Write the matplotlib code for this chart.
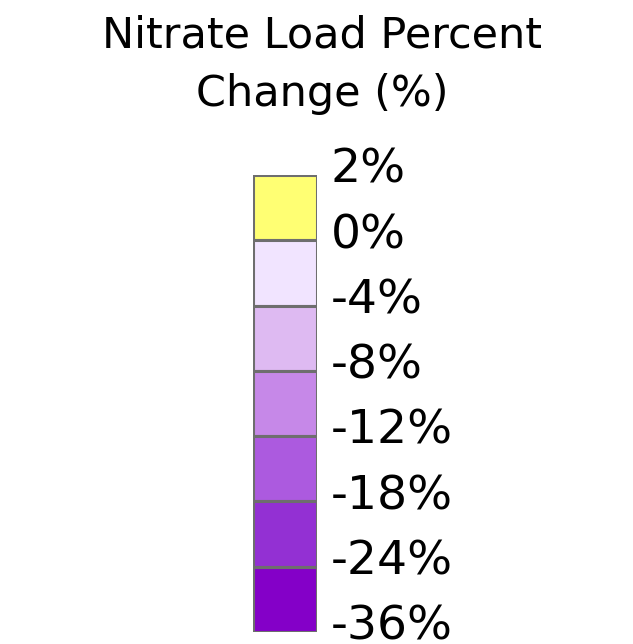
import matplotlib
matplotlib.use("Agg")
import matplotlib.pyplot as plt
from matplotlib.transforms import ScaledTranslation

# legend classes, top to bottom
colors = ["#FFFF73", "#F1E4FF", "#DEBAF2", "#C688E8", "#AC5ADF", "#9330D3", "#8400C8"]
labels = ["2%", "0%", "-4%", "-8%", "-12%", "-18%", "-24%", "-36%"]
title = "Nitrate Load Percent\nChange (%)"

W, H = 633, 644
fig = plt.figure(figsize=(W / 100, H / 100), dpi=100)
fig.patch.set_facecolor("white")

fig.text(322 / W, 1 - 65 / H, title, ha="center", va="center", fontsize=31,
         family="DejaVu Sans", linespacing=1.5)

# box column
ax = fig.add_axes([253 / W, 1 - 632 / H, 64 / W, 457 / H])
n = len(colors)
ax.bar([0] * n, [1] * n, bottom=list(range(n)), width=1, color=colors,
       edgecolor="#6E6E6E", linewidth=2.2)
ax.set_xlim(-0.5, 0.5)
ax.set_ylim(n, 0)
ax.set_xticks([])
ax.yaxis.tick_right()
ax.set_yticks(range(n + 1))
ax.set_yticklabels(labels, fontsize=34, family="DejaVu Sans")
ax.tick_params(axis="y", length=0, pad=10)
shift = ScaledTranslation(0, 7 / 72, fig.dpi_scale_trans)
for lab in ax.get_yticklabels():
    lab.set_transform(lab.get_transform() + shift)
for s in ax.spines.values():
    s.set_visible(False)

fig.savefig("out.png", dpi=100)
